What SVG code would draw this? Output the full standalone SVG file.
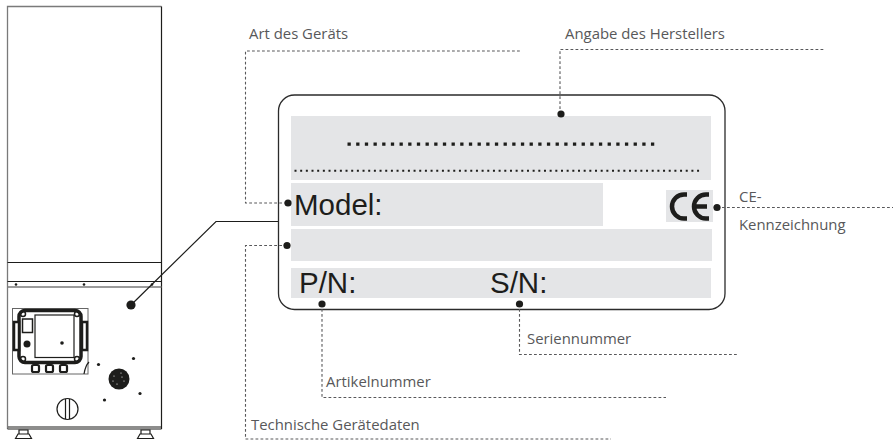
<svg xmlns="http://www.w3.org/2000/svg" width="893" height="441" viewBox="0 0 893 441">
<style>
.t{font-family:"Open Sans","Noto Sans",sans-serif;font-size:14.9px;fill:#58585a}
.b{font-family:"Liberation Sans",Arial,sans-serif;font-size:29.500px;fill:#1d1d1b}
.p{fill:#e4e5e7}
.d{fill:none;stroke:#58585a;stroke-width:1.100;stroke-dasharray:2.800 2.200}
.k{fill:none;stroke:#1d1d1b;stroke-width:1.200}
.g{fill:none;stroke:#7a7a7a;stroke-width:1.300}
.f{fill:#1d1d1b}
</style>
<rect width="893" height="441" fill="#fff"/>
<g id="device">
<path class="g" d="M7.500 429V6.500H161.500"/>
<path class="k" d="M161.500 6.500V429M7.500 429H161.500"/>
<path class="k" d="M7.500 262.500H161.500" stroke="#444"/>
<path class="k" d="M7.500 281.500H161.500" stroke-width="1"/><path class="g" d="M7.500 287H161.500"/>
<circle class="f" cx="16" cy="284.500" r="1.300"/><circle class="f" cx="84" cy="284.500" r="1.300"/><circle class="f" cx="152" cy="284.500" r="1.300"/>
<rect x="12.500" y="308.500" width="75.500" height="65.500" fill="none" stroke="#666" stroke-width="1"/>
<rect x="19" y="310.500" width="62" height="52" rx="6" fill="none" stroke="#1d1d1b" stroke-width="3.500"/>
<rect x="35" y="315" width="39" height="42.500" fill="#fff" stroke="#1d1d1b" stroke-width="1.200"/>
<rect x="22.500" y="319" width="10" height="13.500" fill="#fff" stroke="#1d1d1b" stroke-width="1.500"/>
<rect x="14" y="322" width="5" height="28" fill="#fff" stroke="#1d1d1b" stroke-width="2.500"/>
<rect x="82" y="322" width="5" height="28" fill="#fff" stroke="#1d1d1b" stroke-width="2.500"/>
<circle class="f" cx="27" cy="344" r="3.500"/><circle class="f" cx="62" cy="343" r="1.800"/>
<circle cx="23" cy="359" r="2.500" fill="none" stroke="#1d1d1b" stroke-width="1.500"/>
<circle cx="23" cy="314" r="2.500" fill="none" stroke="#1d1d1b" stroke-width="1.500"/>
<circle cx="77" cy="314" r="2.500" fill="none" stroke="#1d1d1b" stroke-width="1.500"/>
<circle cx="77" cy="359" r="2.500" fill="none" stroke="#1d1d1b" stroke-width="1.500"/>
<g fill="#fff" stroke="#1d1d1b" stroke-width="2.200"><rect x="32" y="365" width="7" height="7" rx="1.500"/><rect x="46" y="365" width="7" height="7" rx="1.500"/><rect x="60" y="365" width="7" height="7" rx="1.500"/></g>
<path class="k" d="M84 374C85 368 87 364 89 362"/>
<circle class="f" cx="119" cy="379" r="10.500"/>
<g fill="#fff"><circle cx="114" cy="376" r=".6"/><circle cx="121" cy="373" r=".6"/><circle cx="124" cy="381" r=".6"/><circle cx="117" cy="384" r=".6"/><circle cx="122" cy="377" r=".6"/><circle cx="113" cy="381" r=".6"/></g>
<circle class="f" cx="98.500" cy="364.500" r="1.600"/><circle class="f" cx="133.500" cy="358.500" r="1.600"/><circle class="f" cx="140" cy="393.500" r="1.600"/><circle class="f" cx="104.500" cy="400" r="1.600"/>
<circle cx="67.500" cy="409" r="10.500" fill="none" stroke="#1d1d1b" stroke-width="1.200"/>
<path class="k" d="M65.500 399V419M69.500 399V419" stroke-width="1"/>
<path class="k" d="M8 427H161" stroke-width="1"/>
<path class="k" d="M15.500 438.500L18 434H29L31.500 438.500ZM19 430H28V434H19Z" stroke-width="1.500"/>
<path class="k" d="M137.500 438.500L140 434H151L153.500 438.500ZM141 430H150V434H141Z" stroke-width="1.500"/>
<circle class="f" cx="131" cy="305" r="4.600"/>
</g>
<g id="label">
<rect x="278.500" y="95" width="446.500" height="214.500" rx="16" fill="#fff" stroke="#2b2b2b" stroke-width="1.300"/>
<rect class="p" x="291" y="116" width="420" height="64"/>
<rect class="p" x="291" y="183" width="312" height="43"/>
<rect class="p" x="666" y="190" width="47" height="32"/>
<rect class="p" x="291" y="229" width="421" height="32"/>
<rect class="p" x="291" y="268" width="420" height="30"/>
<path d="M347.500 144.200H657" fill="none" stroke="#1d1d1b" stroke-width="3.300" stroke-dasharray="3.300 5.370"/>
<path d="M294.500 170.700H701" fill="none" stroke="#1d1d1b" stroke-width="2" stroke-dasharray="2 3.670"/>
<text class="b" x="294" y="215">Model:</text>
<text class="b" x="299" y="292.700">P/N:</text>
<text class="b" x="490" y="292.700">S/N:</text>
<path d="M687 194.500H684A12 12 0 0 0 684 218.500H687M709 194.500H706A12 12 0 0 0 706 218.500H709M694 206.500H707" fill="none" stroke="#1d1d1b" stroke-width="4.500"/>
</g>
<g id="connectors">
<path class="k" d="M131 305L216 221.500H278" stroke="#2b2b2b"/>
<path class="d" d="M287 203H245.500V51H521"/>
<path class="d" d="M560 114V49.500H825"/>
<path class="d" d="M717 207.500H893"/>
<path class="d" d="M287 245.500H245.500V439H611"/>
<path class="d" d="M322 304V397.500H666"/>
<path class="d" d="M519.500 304V354.500H739"/>
</g>
<g id="dots" class="f">
<circle cx="288" cy="203" r="3.600"/><circle cx="561" cy="114" r="3.600"/><circle cx="717" cy="207.500" r="3.600"/><circle cx="287" cy="245.500" r="3.600"/><circle cx="322" cy="304" r="3.600"/><circle cx="519.500" cy="304" r="3.600"/>
</g>
<g id="labels">
<text class="t" x="249" y="39">Art des Geräts</text>
<text class="t" x="565" y="39">Angabe des Herstellers</text>
<text class="t" x="739" y="201.500">CE-</text>
<text class="t" x="739" y="230">Kennzeichnung</text>
<text class="t" x="527" y="344.300">Seriennummer</text>
<text class="t" x="326" y="387">Artikelnummer</text>
<text class="t" x="251" y="430">Technische Gerätedaten</text>
</g>
</svg>
